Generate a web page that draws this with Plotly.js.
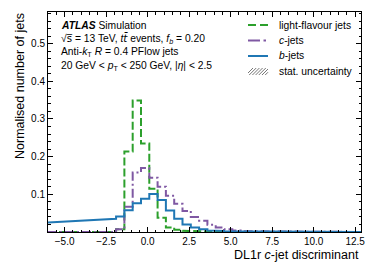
<!DOCTYPE html>
<html>
<head>
<meta charset="utf-8">
<script src="https://cdn.plot.ly/plotly-3.0.1.min.js"></script>
<style>html,body{margin:0;padding:0;background:#fff;}#chart{width:374px;height:280px;}</style>
</head>
<body>
<div id="chart"></div>
<script>
// ---- data ----
const binEdges = [-1.9, -1.4, -0.9, -0.4, 0.1, 0.6, 1.1, 1.6, 2.1, 2.6, 3.1, 3.6, 4.1, 4.6, 5.1, 5.6, 6.1, 6.6, 12.85];
const lightJets = [0.007, 0.214, 0.349, 0.235, 0.115, 0.038, 0.012, 0.006, 0.003, 0.002, 0.001, 0.001, 0, 0, 0, 0, 0, 0];
const cJets     = [0.007, 0.067, 0.158, 0.170, 0.144, 0.120, 0.096, 0.075, 0.056, 0.040, 0.030, 0.019, 0.012, 0.007, 0.004, 0.002, 0.001, 0];
const bJets     = [0.041, 0.058, 0.076, 0.088, 0.101, 0.085, 0.057, 0.035, 0.020, 0.012, 0.007, 0.004, 0.003, 0.002, 0.001, 0.001, 0.0005, 0];
const tailX = [-6, -1.9];
const lightTail = [0, 0];
const cTail = [0, 0];
const bTail = [0.025, 0.035];
const xTickVals = [-5, -2.5, 0, 2.5, 5, 7.5, 10, 12.5];
const yTickVals = [0.1, 0.2, 0.3, 0.4, 0.5];
const legendLabels = ['light-flavour jets', '<i>c</i>-jets', '<i>b</i>-jets', 'stat. uncertainty'];
const infoLines = [
  '<b><i>ATLAS</i></b> Simulation',
  '√<span style="font-family:DejaVu Sans">s\u0305</span> = 13 TeV, <i>t<span style="font-family:DejaVu Sans">t\u0304</span></i> events, <i>f<sub>b</sub></i> = 0.20',
  'Anti-<i>k</i><sub>T</sub> <i>R</i> = 0.4 PFlow jets',
  '20 GeV &lt; <i>p</i><sub>T</sub> &lt; 250 GeV, |<i>η</i>| &lt; 2.5'
];

// ---- helpers ----
function stepXY(edges, vals, preX, preY) {
  const x = preX.slice(), y = preY.slice();
  for (let i = 0; i < vals.length; i++) {
    x.push(edges[i], edges[i + 1]);
    y.push(vals[i], vals[i]);
  }
  return {x, y};
}
const L = 48, T = 12, W = 313, H = 220;
const px = v => (v - L) / W;
const py = v => (T + H - v) / H;

const FONT = 'Liberation Sans, Arial, sans-serif';
const cGreen = '#2ca02c', cPurple = '#7f58a3', cBlue = '#1f77b4';

const g = stepXY(binEdges, lightJets, tailX, lightTail);
const c = stepXY(binEdges, cJets, tailX, cTail);
const b = stepXY(binEdges, bJets, tailX, bTail);

const traces = [
  {x: g.x, y: g.y, mode: 'lines', line: {color: cGreen, width: 2, dash: '8px,3px'}, showlegend: false, hoverinfo: 'skip'},
  {x: c.x, y: c.y, mode: 'lines', line: {color: cPurple, width: 2, dash: '9px,3px,2px,3px'}, showlegend: false, hoverinfo: 'skip'},
  {x: b.x, y: b.y, mode: 'lines', line: {color: cBlue, width: 2}, showlegend: false, hoverinfo: 'skip'}
];

// ---- legend (custom) ----
const legY = [25, 40.5, 56, 71.5];
const shapes = [
  {type: 'line', xref: 'paper', yref: 'paper', x0: px(248), x1: px(268), y0: py(legY[0]), y1: py(legY[0]), line: {color: cGreen, width: 2, dash: '8px,4px'}},
  {type: 'line', xref: 'paper', yref: 'paper', x0: px(248), x1: px(260), y0: py(legY[1]), y1: py(legY[1]), line: {color: cPurple, width: 2}},
  {type: 'line', xref: 'paper', yref: 'paper', x0: px(263.5), x1: px(266), y0: py(legY[1]), y1: py(legY[1]), line: {color: cPurple, width: 2}},
  {type: 'line', xref: 'paper', yref: 'paper', x0: px(248), x1: px(268), y0: py(legY[2]), y1: py(legY[2]), line: {color: cBlue, width: 2}}
];
for (let k = 0; k < 7; k++) {
  const xs = 246 + k * 3.2;
  let x0 = xs, y0 = legY[3] + 3.5, x1 = xs + 7, y1 = legY[3] - 3.5;
  if (x0 < 248) { y0 -= (248 - x0); x0 = 248; }
  if (x1 > 268) { y1 += (x1 - 268); x1 = 268; }
  if (x1 > x0) shapes.push({type: 'line', xref: 'paper', yref: 'paper', x0: px(x0), x1: px(x1), y0: py(y0), y1: py(y1), line: {color: '#777', width: 1}});
}

const annotations = [];
legendLabels.forEach((t, i) => annotations.push({
  text: t, xref: 'paper', yref: 'paper', x: px(277), y: py(legY[i]), xanchor: 'left', yanchor: 'middle',
  showarrow: false, font: {family: FONT, size: 10.3, color: '#000'}
}));
const infoY = [25, 39.3, 52.8, 66.7];
infoLines.forEach((t, i) => annotations.push({
  text: t, xref: 'paper', yref: 'paper', x: px(59), y: py(infoY[i]), xanchor: 'left', yanchor: 'middle',
  showarrow: false, font: {family: FONT, size: 10.3, color: '#000'}
}));
annotations.push({
  text: 'DL1r <i>c</i>-jet discriminant', xref: 'paper', yref: 'paper', x: px(361), y: py(255),
  xanchor: 'right', yanchor: 'middle', showarrow: false, font: {family: FONT, size: 12.5, color: '#000'}
});
annotations.push({
  text: 'Normalised number of jets', xref: 'paper', yref: 'paper', x: px(20), y: py(11),
  xanchor: 'center', yanchor: 'top', textangle: -90, showarrow: false, font: {family: FONT, size: 12.5, color: '#000'}
});

const layout = {
  width: 374, height: 280,
  margin: {l: L, r: 374 - L - W, t: T, b: 280 - T - H, pad: 0},
  paper_bgcolor: '#fff', plot_bgcolor: '#fff',
  font: {family: FONT, size: 10, color: '#000'},
  xaxis: {
    range: [-6, 12.85], showgrid: false, zeroline: false,
    showline: true, linecolor: '#000', linewidth: 1, mirror: 'allticks',
    ticks: 'inside', ticklen: 5, tickcolor: '#000', tickwidth: 1,
    tickmode: 'array', tickvals: xTickVals, tickformat: '.1f',
    tickfont: {family: FONT, size: 10, color: '#000'},
    minor: {ticks: 'inside', ticklen: 2.5, tickcolor: '#000', dtick: 0.5, tick0: 0, showgrid: false}
  },
  yaxis: {
    range: [0, 0.584], showgrid: false, zeroline: false,
    showline: true, linecolor: '#000', linewidth: 1, mirror: 'allticks',
    ticks: 'inside', ticklen: 5, tickcolor: '#000', tickwidth: 1,
    tickmode: 'array', tickvals: yTickVals, tickformat: '.1f',
    tickfont: {family: FONT, size: 10, color: '#000'},
    minor: {ticks: 'inside', ticklen: 2.5, tickcolor: '#000', dtick: 0.02, tick0: 0, showgrid: false}
  },
  shapes: shapes,
  annotations: annotations
};

Plotly.newPlot('chart', traces, layout, {staticPlot: true, displayModeBar: false});
</script>
</body>
</html>
